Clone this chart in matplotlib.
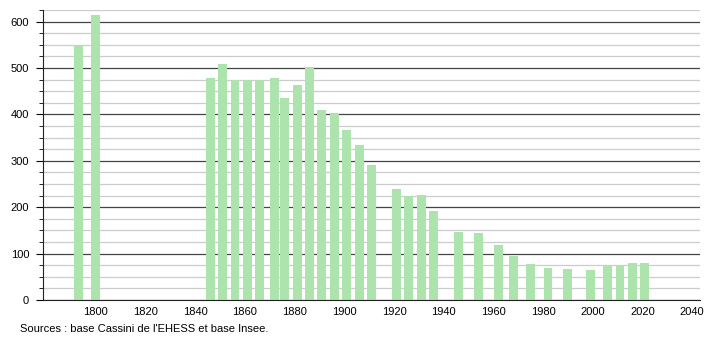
import numpy as np
import matplotlib.pyplot as plt
from matplotlib.ticker import MultipleLocator

plt.rcParams['font.family'] = ['Liberation Sans', 'DejaVu Sans']

# Population by census year
years = [1793, 1800, 1846, 1851, 1856, 1861, 1866, 1872, 1876, 1881, 1886,
         1891, 1896, 1901, 1906, 1911, 1921, 1926, 1931, 1936, 1946, 1954,
         1962, 1968, 1975, 1982, 1990, 1999, 2006, 2011, 2016, 2021]
population = [549, 614, 478, 509, 474, 474, 474, 478, 435, 463, 503,
              410, 403, 366, 335, 291, 240, 224, 227, 192, 147, 145,
              119, 95, 78, 68, 67, 65, 76, 73, 79, 80]

fig = plt.figure(figsize=(7.1, 3.4), dpi=100)
ax = fig.add_axes([43/710, 40/340, 657/710, 290/340])

ax.set_xlim(1778.7, 2043.2)
ax.set_ylim(0, 625)

ax.yaxis.set_major_locator(MultipleLocator(100))
ax.yaxis.set_minor_locator(MultipleLocator(25))
ax.set_xticks(np.arange(1800, 2041, 20))

ax.grid(axis='y', which='major', color='#444444', lw=0.9, zorder=0)
ax.grid(axis='y', which='minor', color='#cccccc', lw=0.9, zorder=0)
ax.set_axisbelow(True)

ax.bar(years, population, width=3.6, color='#ade3ad', zorder=2)

for s in ['top', 'right']:
    ax.spines[s].set_visible(False)
ax.spines['left'].set_color('#222222')
ax.spines['bottom'].set_color('#222222')
ax.tick_params(axis='y', which='major', length=5, labelsize=8, pad=5)
ax.tick_params(axis='y', which='minor', length=3)
ax.tick_params(axis='x', length=0, labelsize=8, pad=5)

fig.text(20/710, 1 - 329/340, "Sources : base Cassini de l'EHESS et base Insee.",
         fontsize=8, va='center', ha='left')

fig.savefig('out.png', dpi=100)
